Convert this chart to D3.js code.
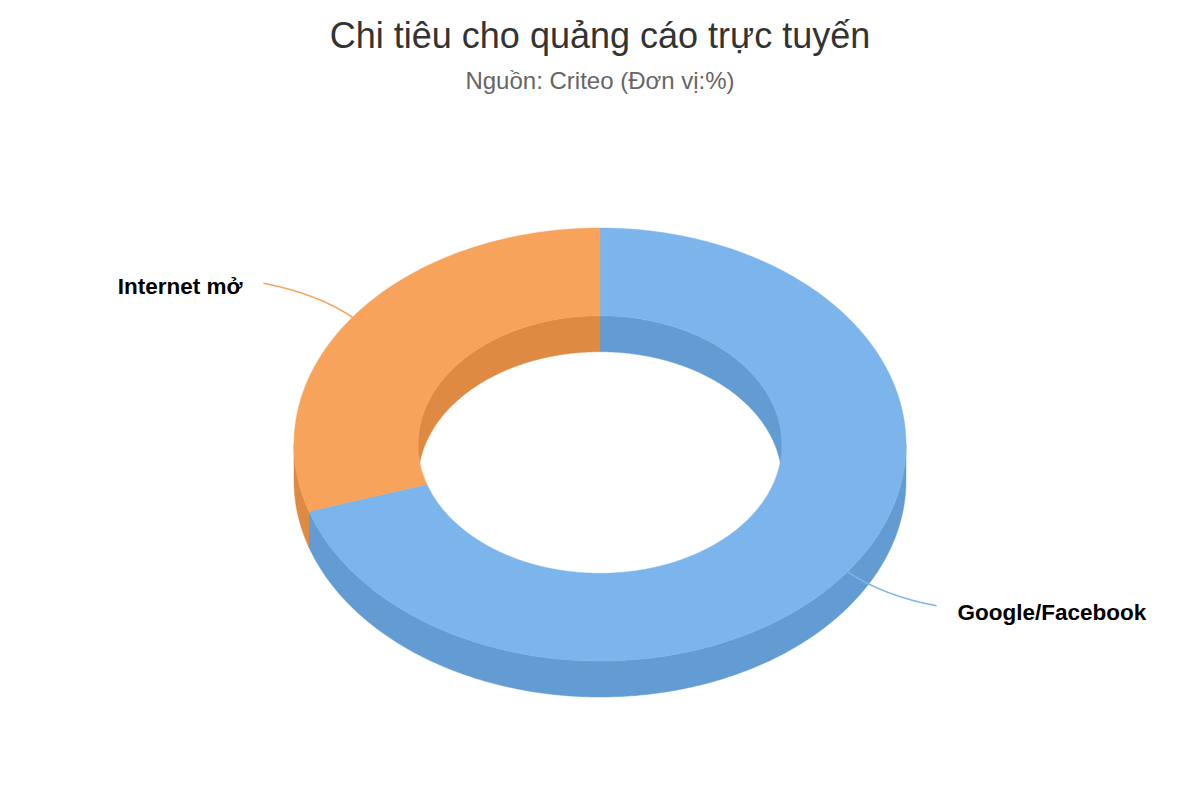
<!DOCTYPE html>
<html>
<head>
<meta charset="utf-8">
<script src="https://d3js.org/d3.v7.min.js"></script>
<style>
  body { margin: 0; background: #fff; }
  svg { display: block; font-family: "Liberation Sans", Arial, sans-serif; }
</style>
</head>
<body>
<svg id="chart" width="1200" height="800"></svg>
<script>
// data
var categories = ["Google/Facebook", "Internet mở"];
var shares = [70, 30];
var colors = ["#7cb5ec", "#f7a35c"];
var sideColors = ["#639cd3", "#de8a43"];

var titleText = "Chi tiêu cho quảng cáo trực tuyến";
var subtitleText = "Nguồn: Criteo (Đơn vị:%)";

var W = 1200, H = 800;
var cx = 600, cy = 444.5;
var outerR = 306, innerR = 182;
var tilt = 0.7075;   // cos(alpha)
var depth = 36;

var svg = d3.select("#chart");

svg.append("text")
    .attr("x", W / 2).attr("y", 48)
    .attr("text-anchor", "middle")
    .style("font-size", "36px")
    .style("fill", "#333333")
    .text(titleText);

svg.append("text")
    .attr("x", W / 2).attr("y", 89)
    .attr("text-anchor", "middle")
    .style("font-size", "24px")
    .style("fill", "#666666")
    .text(subtitleText);

var pie = d3.pie().sort(null).value(function (d) { return d; });
var arcs = pie(shares);

// angle measured clockwise from 12 o'clock, projected onto tilted plane
function proj(a, r, dz) {
    return [cx + r * Math.sin(a), cy - r * tilt * Math.cos(a) + (dz || 0)];
}

function arcPts(a0, a1, r, dz) {
    var n = Math.max(2, Math.ceil(Math.abs(a1 - a0) / 0.01));
    var pts = [];
    for (var i = 0; i <= n; i++) {
        pts.push(proj(a0 + (a1 - a0) * i / n, r, dz));
    }
    return pts;
}

var line = d3.line();

function clip(a0, a1, lo, hi) {
    var s = Math.max(a0, lo), e = Math.min(a1, hi);
    return s < e ? [s, e] : null;
}

var gInner = svg.append("g");
var gOuter = svg.append("g");
var gTop = svg.append("g");
var gLab = svg.append("g");

arcs.forEach(function (d, i) {
    var a0 = d.startAngle, a1 = d.endAngle;

    // inner wall, back half (seen through the hole)
    [[-Math.PI / 2, Math.PI / 2], [3 * Math.PI / 2, 5 * Math.PI / 2]].forEach(function (rg) {
        var c = clip(a0, a1, rg[0], rg[1]);
        if (!c) return;
        var pts = arcPts(c[0], c[1], innerR, 0).concat(arcPts(c[1], c[0], innerR, depth));
        gInner.append("path")
            .attr("d", line(pts) + "Z")
            .attr("fill", sideColors[i])
            .attr("stroke", sideColors[i]).attr("stroke-width", 0.5);
    });

    // outer wall, front half
    var c = clip(a0, a1, Math.PI / 2, 3 * Math.PI / 2);
    if (c) {
        var pts = arcPts(c[0], c[1], outerR, 0).concat(arcPts(c[1], c[0], outerR, depth));
        gOuter.append("path")
            .attr("d", line(pts) + "Z")
            .attr("fill", sideColors[i])
            .attr("stroke", sideColors[i]).attr("stroke-width", 0.5);
    }

    // top face
    var top = arcPts(a0, a1, outerR, 0).concat(arcPts(a1, a0, innerR, 0));
    gTop.append("path")
        .attr("d", line(top) + "Z")
        .attr("fill", colors[i])
        .attr("stroke", colors[i]).attr("stroke-width", 0.5);

    // connector + label
    var mid = (a0 + a1) / 2;
    var p = proj(mid, outerR, 0);
    var side = Math.sin(mid) >= 0 ? 1 : -1;
    var vdir = Math.cos(mid) >= 0 ? -1 : 1;
    var end = [p[0] + side * 89, p[1] + vdir * 34];
    var ctrl = [end[0] + (p[0] - end[0]) * 0.6, end[1] + (p[1] - end[1]) * 0.3];
    var path = d3.path();
    path.moveTo(end[0], end[1]);
    path.quadraticCurveTo(ctrl[0], ctrl[1], p[0], p[1]);
    gLab.append("path")
        .attr("d", path.toString())
        .attr("fill", "none")
        .attr("stroke", colors[i])
        .attr("stroke-width", 1.5);

    gLab.append("text")
        .attr("x", end[0] + side * 21)
        .attr("y", end[1] + (side > 0 ? 14 : 11))
        .attr("text-anchor", side > 0 ? "start" : "end")
        .style("font-size", "22.5px")
        .style("font-weight", "bold")
        .style("fill", "#000000")
        .text(categories[i]);
});
</script>
</body>
</html>
